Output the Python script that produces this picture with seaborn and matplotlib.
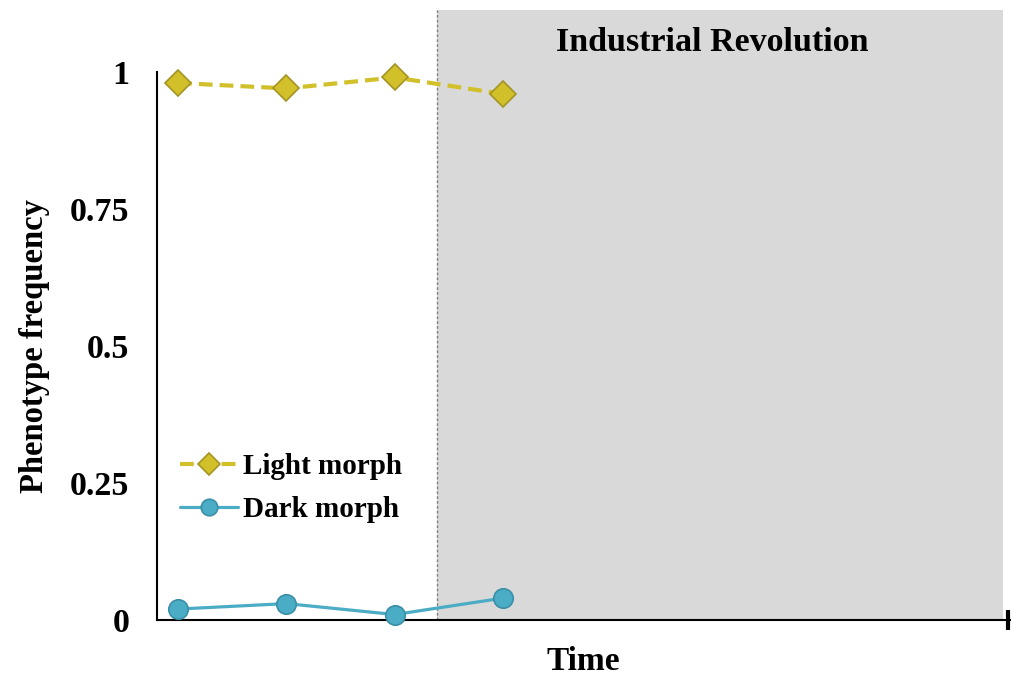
import pandas as pd
import numpy as np
import matplotlib.pyplot as plt
import seaborn as sns

sns.set_theme(style='white')
plt.rcParams['font.family'] = ['Liberation Serif', 'DejaVu Serif']
plt.rcParams['font.weight'] = 'bold'
plt.rcParams['text.color'] = 'black'
plt.rcParams['axes.labelcolor'] = 'black'
plt.rcParams['xtick.color'] = 'black'
plt.rcParams['ytick.color'] = 'black'

# Data
periods = [1, 2, 3, 4]
light_morph = [0.98, 0.97, 0.99, 0.96]
dark_morph = [0.02, 0.03, 0.01, 0.04]
y_ticks = [0, 0.25, 0.5, 0.75, 1]
y_tick_labels = ['0', '0.25', '0.5', '0.75', '1']
revolution_start = 3.39
revolution_end = 8.62

light_color = '#D2C02A'
dark_color = '#4BACC6'

df = pd.DataFrame({
    'Time': periods * 2,
    'Frequency': light_morph + dark_morph,
    'Morph': ['Light morph'] * 4 + ['Dark morph'] * 4,
})

fig = plt.figure(figsize=(10.11, 6.76), dpi=100)
ax = fig.add_axes([0.1553, 0.0828, 0.8437, 0.8107])

# Industrial Revolution shaded band (extends above the plot area)
ax.axvspan(revolution_start, revolution_end, ymin=0, ymax=1.113,
           color='#D9D9D9', lw=0, clip_on=False, zorder=0)
ax.axvline(revolution_start, ymin=0, ymax=1.113, color='#808080',
           lw=1, ls=(0, (2, 1.5)), clip_on=False, zorder=1)
ax.text(5.93, 1.053, 'Industrial Revolution',
        transform=ax.get_xaxis_transform(), ha='center', va='center',
        fontsize=24.5, fontweight='bold')

sns.lineplot(data=df[df['Morph'] == 'Light morph'], x='Time', y='Frequency',
             ax=ax, color=light_color, lw=3, marker='D', markersize=13,
             markerfacecolor=light_color, markeredgecolor='#A39424',
             markeredgewidth=1.2, label='Light morph', zorder=3, clip_on=False)
ax.lines[-1].set_dashes([3.3, 1.7])
sns.lineplot(data=df[df['Morph'] == 'Dark morph'], x='Time', y='Frequency',
             ax=ax, color=dark_color, lw=2.3, marker='o', markersize=14,
             markerfacecolor=dark_color, markeredgecolor='#3B8FA6',
             markeredgewidth=1.2, label='Dark morph', zorder=3, clip_on=False)

ax.set_xlim(0.806, 8.68)
ax.set_ylim(0, 1)
ax.set_yticks(y_ticks)
ax.set_yticklabels(y_tick_labels)
ax.set_xticks([8.665])
ax.set_xticklabels([''])
ax.tick_params(axis='y', left=False, length=0, pad=20, labelsize=24.5)
ax.tick_params(axis='x', bottom=True, length=14, width=3, direction='inout',
               color='black')

for side in ['top', 'right']:
    ax.spines[side].set_visible(False)
for side in ['left', 'bottom']:
    ax.spines[side].set_color('black')
    ax.spines[side].set_linewidth(1.5)

ax.set_xlabel('Time', fontsize=24, fontweight='bold', labelpad=8)
ax.set_ylabel('Phenotype frequency', fontsize=23.5, fontweight='bold', labelpad=14)

ax.legend(loc='upper left', bbox_to_anchor=(0.027, 0.305), frameon=False,
          fontsize=21, handlelength=2.0, handletextpad=0.15, labelspacing=0.55,
          borderaxespad=0, borderpad=0, markerscale=0.85)

plt.savefig('out.png', dpi=100)
plt.close()
